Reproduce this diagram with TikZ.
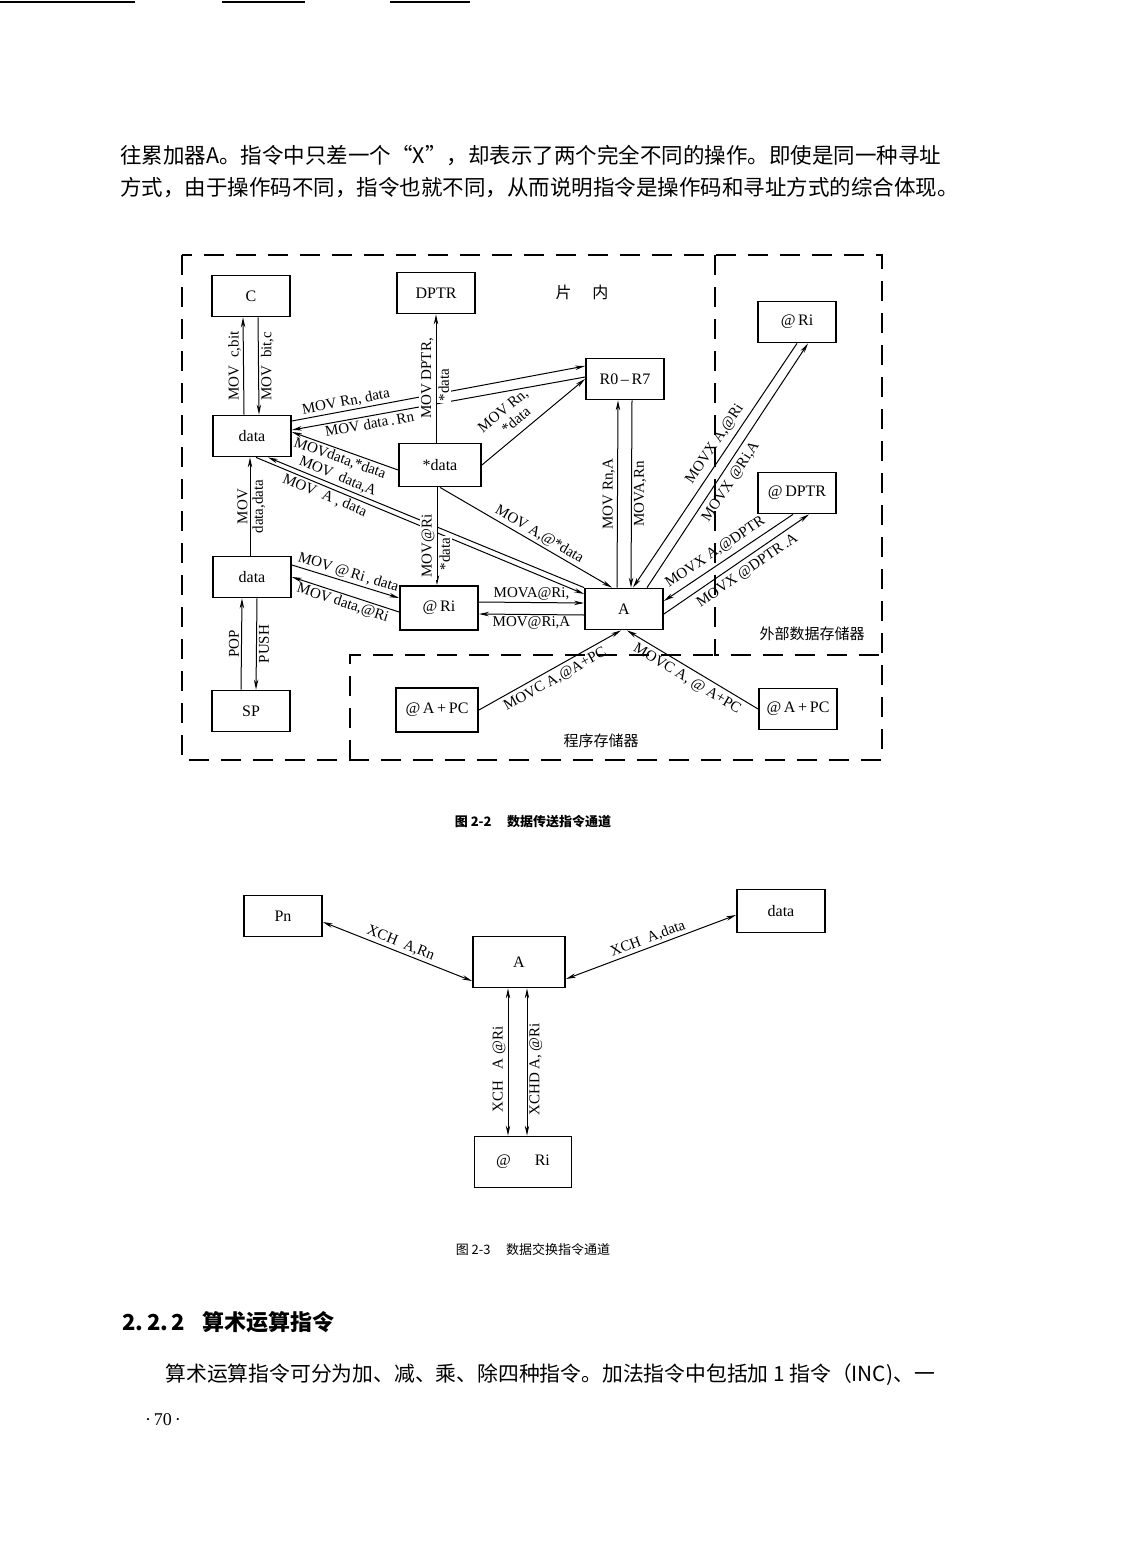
\documentclass[tikz,border=0pt]{standalone}
\usepackage{fontspec}
\setmainfont{Liberation Serif}
\newfontfamily\cjk{Noto Sans CJK SC}
\usetikzlibrary{arrows.meta}
\tikzset{>={Stealth[length=5pt,width=2.2pt]}}

\begin{document}
\begin{tikzpicture}[x=0.5pt,y=-0.5pt,
	box/.style={draw,line width=0.9pt,minimum width=39pt,minimum height=20.5pt,inner sep=1pt,font=\fontsize{8}{9}\selectfont},
	lbl/.style={font=\fontsize{7.5}{8}\selectfont,inner sep=1pt},
	vlbl/.style={lbl,rotate=90},
	wire/.style={line width=0.5pt},
	frame/.style={line width=1pt,dash pattern=on 10pt off 6pt},
	zh/.style={font=\cjk\fontsize{10.75}{13}\selectfont,inner sep=0pt},
	zone/.style={font=\cjk\fontsize{7.5}{8}\selectfont,inner sep=0pt}]
		\useasboundingbox (0,0) rectangle (1122,1568);

		% scan marks at the top edge
		\draw[line width=0.8pt] (0,2) -- (135,2);
		\draw[line width=0.8pt] (222,2) -- (305,2);
		\draw[line width=0.8pt] (390,2) -- (470,2);

		\node[zh,anchor=west] (par1) at (120,156) {往累加器A。指令中只差一个“X”，却表示了两个完全不同的操作。即使是同一种寻址};
		\node[zh,anchor=west] (par2) at (120,188) {方式，由于操作码不同，指令也就不同，从而说明指令是操作码和寻址方式的综合体现。};

		% figure 2-2
		\draw[frame] (182,255) rectangle (882,760);
		\draw[frame] (715,255) -- (715,655) -- (882,655);
		\draw[frame] (350,760) -- (350,655) -- (715,655);

		\node[box] (c) at (251,296) {C};
		\node[box] (dptr) at (436,293) {DPTR};
		\node[zone,font=\cjk\fontsize{8}{9}\selectfont] (chip) at (582,292) {片\hspace{1.3em}内};
		\node[box] (exri) at (797,322) {@\,Ri};
		\node[box] (r07) at (625,379) {R0\,--\,R7};
		\node[box] (dta1) at (252,436) {data};
		\node[box,minimum width=41pt,minimum height=21.5pt] (imm) at (440,465) {*data};
		\node[box] (exdptr) at (797,493) {@\,DPTR};
		\node[box] (dta2) at (252,577) {data};
		\node[box,minimum height=22pt] (inri) at (439,608) {@\,Ri};
		\node[box] (a) at (624,609) {A};
		\node[box] (sp) at (251,711) {SP};
		\node[box,minimum width=41pt,minimum height=22pt] (pcl) at (437,710) {@\,A\,+\,PC};
		\node[box] (pcr) at (798,709) {@\,A\,+\,PC};
		\node[zone] (ext) at (812,634) {外部数据存储器};
		\node[zone] (prog) at (601,741) {程序存储器};

		\draw[wire,->] ([xshift=-4pt]dta1.north) -- ([xshift=-4pt]c.south)
			node[vlbl,midway,anchor=south] {MOV\ \ c,bit};
		\draw[wire,->] ([xshift=3.5pt]c.south) -- ([xshift=3.5pt]dta1.north)
			node[vlbl,midway,anchor=north] {MOV\ \ bit,c};

		\draw[wire,->] ([yshift=7.5pt]dta1.east) -- ([yshift=6.5pt]r07.west)
			node[lbl,sloped,above,pos=0.19] {MOV\ Rn,\ data};
		\draw[wire,<-] ([yshift=3pt]dta1.east) -- ([yshift=1pt]r07.west)
			node[lbl,sloped,below,pos=0.26] {MOV\ data\,.\,Rn};
		\draw[wire,->] (imm.east) -- (r07.west)
			node[lbl,sloped,above=2.5pt,pos=0.38,align=center] {MOV\ Rn,\\\ \ *data};
		\draw[wire,<-] ([yshift=2pt]dta1.east) -- ([yshift=-2.5pt]imm.west)
			node[lbl,sloped,below=0pt,pos=0.48] {MOVdata,*data};
		\draw[wire,<-] ([xshift=8pt]dta1.south) -- (a.north west)
			node[lbl,sloped,above=0pt,pos=0.21] {MOV\ \ data,A};
		\draw[wire,->] ([xshift=2pt]dta1.south) -- ([yshift=7.5pt]a.west)
			node[lbl,sloped,below,pos=0.22] {MOV\ \ A\ ,\ data};
		\draw[wire,->] (imm.south) -- ([xshift=-6pt]a.north)
			node[lbl,sloped,above,pos=0.55] {MOV A,@*data};

		\draw[wire,->] ([xshift=-1pt]dta2.north) -- ([xshift=-1pt]dta1.south)
			node[vlbl,midway,anchor=south] {MOV}
			node[vlbl,midway,anchor=north] {data,data};

		\draw[wire,->] ([yshift=6pt]dta2.east) -- ([yshift=5pt]inri.west)
			node[lbl,sloped,above,midway] {MOV\ @\,Ri\,,\ data};
		\draw[wire,<-] (dta2.east) -- ([yshift=-2pt]inri.west)
			node[lbl,sloped,below,midway] {MOV\ data,@Ri};

		\draw[wire,->] ([yshift=3pt]inri.east) -- ([yshift=3pt]a.west)
			node[lbl,midway,above] {MOVA@Ri,};
		\draw[wire,<-] ([yshift=-3pt]inri.east) -- ([yshift=-3pt]a.west)
			node[lbl,midway,below] {MOV@Ri,A};

		\draw[wire,<-] ([xshift=-3.5pt]r07.south) -- ([xshift=-3.5pt]a.north)
			node[vlbl,midway,anchor=south] {MOV\ Rn,A};
		\draw[wire,->] ([xshift=3.5pt]r07.south) -- ([xshift=3.5pt]a.north)
			node[vlbl,midway,anchor=north] {MOVA,Rn};

		\draw[wire,<-] ([xshift=4.5pt]a.north) -- (exri.south)
			node[lbl,sloped,above=1.5pt,pos=0.56] {MOVX\ A,@Ri};
		\draw[wire,->] ([xshift=11.5pt]a.north) -- ([xshift=5.5pt]exri.south)
			node[lbl,sloped,below=1.5pt,pos=0.46] {MOVX\ @Ri,A};

		\draw[wire,<-] ([yshift=4pt]a.east) -- ([xshift=-2pt]exdptr.south)
			node[lbl,sloped,above=1.5pt,pos=0.45] {MOVX\ A,@DPTR};
		\draw[wire,->] ([yshift=-2.5pt]a.east) -- ([xshift=6pt]exdptr.south)
			node[lbl,sloped,below=1.5pt,pos=0.53] {MOVX\ @DPTR\,.A};

		\draw[wire,->] (pcl.east) -- ([xshift=-1.5pt]a.south)
			node[lbl,sloped,below=1pt,pos=0.5] {MOVC\ A,@A+PC};
		\draw[wire,<-] ([xshift=1.5pt]a.south) -- (pcr.west)
			node[lbl,sloped,below=1pt,pos=0.5] {MOVC\ A,\ @\ A+PC};

		\draw[wire,->] ([xshift=-5pt]sp.north) -- ([xshift=-5pt]dta2.south)
			node[vlbl,midway,anchor=south] {POP};
		\draw[wire,->] ([xshift=2.5pt]dta2.south) -- ([xshift=2.5pt]sp.north)
			node[vlbl,midway,anchor=north] {PUSH};

		% vertical channels last, their labels cut the crossing lines
		\draw[wire,->] (dptr.south |- imm.north) -- (dptr.south)
			node[vlbl,midway,anchor=south,fill=white] {MOV\ DPTR,}
			node[vlbl,pos=0.45,anchor=north,fill=white] {*data};
		\draw[wire,->] ([xshift=-1.5pt]imm.south) -- ([xshift=-1.5pt]imm.south |- inri.north)
			node[vlbl,pos=0.6,anchor=south,fill=white] {MOV@Ri}
			node[vlbl,pos=0.68,anchor=north,fill=white] {*data};

		\node[font=\cjk\bfseries\fontsize{6.5}{8}\selectfont,inner sep=0pt] (cap1) at (533,822) {图 2-2\hspace{1.2em}数据传送指令通道};

		% figure 2-3
		\node[box] (pn) at (283,916) {Pn};
		\node[box,minimum width=46pt,minimum height=25.5pt] (a2) at (519,962) {A};
		\node[box,minimum width=44pt,minimum height=21.5pt] (dat) at (781,911) {data};
		\node[box,minimum width=48.5pt,minimum height=25.5pt] (ri2) at (523,1162) {@\hspace{1.5em}Ri};

		\draw[wire,<->] ([yshift=-3pt]pn.east) -- ([yshift=-9.5pt]a2.west)
			node[lbl,sloped,above,midway] {XCH\ \ A,Rn};
		\draw[wire,<->] ([yshift=-8.5pt]a2.east) -- ([yshift=-2pt]dat.west)
			node[lbl,sloped,above,midway] {XCH\ \ A,data};
		\draw[wire,<->] ([xshift=-5.5pt]a2.south) -- ([xshift=-5.5pt]a2.south |- ri2.north)
			node[vlbl,pos=0.55,anchor=south] {XCH\ \ \ A\ @Ri};
		\draw[wire,<->] ([xshift=4pt]a2.south) -- ([xshift=4pt]a2.south |- ri2.north)
			node[vlbl,pos=0.55,anchor=north] {XCHD\ A,\ @Ri};

		\node[font=\cjk\fontsize{6.5}{8}\selectfont,inner sep=0pt] (cap2) at (533,1250) {图 2-3\hspace{1.2em}数据交换指令通道};

		\node[font=\cjk\bfseries\fontsize{11}{13}\selectfont,inner sep=0pt,anchor=west] (sec) at (122,1322) {\textbf{2.\,2.\,2}\hspace{0.8em}算术运算指令};
		\node[zh,font=\cjk\fontsize{10.4}{13}\selectfont,anchor=west] (par3) at (165,1375) {算术运算指令可分为加、减、乘、除四种指令。加法指令中包括加 1 指令（INC)、一};
		\node[font=\fontsize{9}{10}\selectfont,inner sep=0pt] (pg) at (163,1420) {·\,70\,·};
	\end{tikzpicture}
\end{document}
